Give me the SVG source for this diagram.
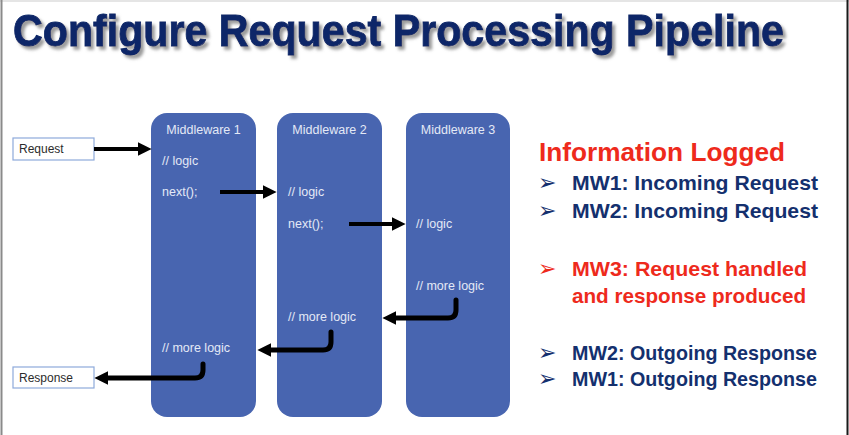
<svg xmlns="http://www.w3.org/2000/svg" width="849" height="435" viewBox="0 0 849 435">
  <defs>
    <filter id="titleShadow" x="-5%" y="-20%" width="110%" height="150%">
      <feDropShadow dx="3" dy="3" stdDeviation="1.6" flood-color="#7a7a7a" flood-opacity="0.75"/>
    </filter>
    <marker id="head" markerUnits="userSpaceOnUse" markerWidth="14" markerHeight="14" viewBox="0 0 13 13" refX="5" refY="6.5" orient="auto">
      <path d="M0,0 L13,6.5 L0,13 Z" fill="#000"/>
    </marker>
  </defs>
  <style>
    .mw { fill: #4865b0; }
    .mwTitle { font-family: "Liberation Sans", Arial, sans-serif; font-size: 12.5px; fill: #e4e9f6; text-anchor: middle; }
    .code { font-family: "Liberation Sans", Arial, sans-serif; font-size: 12.5px; fill: #e4e9f6; }
    .io { fill: #ffffff; stroke: #8eaadb; stroke-width: 1.2; }
    .ioText { font-family: "Liberation Sans", Arial, sans-serif; font-size: 12px; fill: #2b2b2b; }
    .wire { fill: none; stroke: #000; stroke-width: 4; stroke-linejoin: round; }
    .hook { fill: none; stroke: #000; stroke-width: 5; stroke-linecap: round; }
    .log { font-family: "Liberation Sans", Arial, sans-serif; font-weight: bold; font-size: 21px; fill: #14306e; }
    .logRed { font-family: "Liberation Sans", Arial, sans-serif; font-weight: bold; font-size: 21px; fill: #ee2a1c; }
    .bullet { font-family: "DejaVu Sans", sans-serif; font-size: 22px; fill: #14306e; }
    .bulletRed { font-family: "DejaVu Sans", sans-serif; font-size: 22px; fill: #ee2a1c; }
  </style>

  <!-- page frame -->
  <rect width="849" height="435" fill="#ffffff"/>
  <line x1="0" y1="1" x2="849" y2="1" stroke="#dcdcdc" stroke-width="1.5"/>
  <line x1="1.5" y1="0" x2="1.5" y2="435" stroke="#8a8a8a" stroke-width="2"/>
  <line x1="847.5" y1="0" x2="847.5" y2="435" stroke="#1a1a1a" stroke-width="2"/>

  <!-- heading: tall, slightly condensed bold face -->
  <text transform="translate(13,46) scale(1,1.1)" x="0" y="0" font-family="Liberation Sans, Arial, sans-serif" font-weight="bold" font-size="41" fill="#0f2868" stroke="#0f2868" stroke-width="0.8" textLength="771" lengthAdjust="spacingAndGlyphs" filter="url(#titleShadow)">Configure Request Processing Pipeline</text>

  <!-- request / response endpoints -->
  <g id="request">
    <rect class="io" x="13" y="138" width="81" height="22"/>
    <text class="ioText" x="19" y="153">Request</text>
  </g>
  <g id="response">
    <rect class="io" x="13" y="367" width="81" height="21"/>
    <text class="ioText" x="19" y="382">Response</text>
  </g>

  <!-- middleware stages -->
  <g id="middleware1">
    <rect class="mw" x="151" y="113" width="105" height="304" rx="16"/>
    <text class="mwTitle" x="203.5" y="134">Middleware 1</text>
    <text class="code" x="162" y="165">// logic</text>
    <text class="code" x="162" y="196">next();</text>
    <text class="code" x="162" y="352">// more logic</text>
  </g>
  <g id="middleware2">
    <rect class="mw" x="277" y="113" width="105" height="304" rx="16"/>
    <text class="mwTitle" x="329.5" y="134">Middleware 2</text>
    <text class="code" x="288" y="196">// logic</text>
    <text class="code" x="288" y="228">next();</text>
    <text class="code" x="288" y="321">// more logic</text>
  </g>
  <g id="middleware3">
    <rect class="mw" x="406" y="113" width="104" height="304" rx="16"/>
    <text class="mwTitle" x="458" y="134">Middleware 3</text>
    <text class="code" x="416" y="228">// logic</text>
    <text class="code" x="416" y="290">// more logic</text>
  </g>

  <!-- flow connectors -->
  <g id="connectors">
    <line class="wire" x1="94" y1="149" x2="143" y2="149" marker-end="url(#head)"/>
    <line class="wire" x1="220" y1="192" x2="268" y2="192" marker-end="url(#head)"/>
    <line class="wire" x1="349" y1="224" x2="397" y2="224" marker-end="url(#head)"/>
    <path class="hook" d="M456,300 V310 Q456,318 448,318 H391" marker-end="url(#head)"/>
    <path class="hook" d="M331,332 V342 Q331,350 323,350 H266" marker-end="url(#head)"/>
    <path class="hook" d="M203,364 V370 Q203,378 195,378 H103" marker-end="url(#head)"/>
  </g>

  <!-- log summary -->
  <g id="log-summary">
    <text x="539" y="161" font-family="Liberation Sans, Arial, sans-serif" font-weight="bold" font-size="26" fill="#ee2a1c" textLength="246" lengthAdjust="spacingAndGlyphs">Information Logged</text>

    <text class="bullet" x="538" y="190">➢</text>
    <text class="log" x="572" y="190" textLength="246" lengthAdjust="spacingAndGlyphs">MW1: Incoming Request</text>

    <text class="bullet" x="538" y="218">➢</text>
    <text class="log" x="572" y="218" textLength="246" lengthAdjust="spacingAndGlyphs">MW2: Incoming Request</text>

    <text class="bulletRed" x="538" y="276">➢</text>
    <text class="logRed" x="572" y="276" textLength="235" lengthAdjust="spacingAndGlyphs">MW3: Request handled</text>
    <text class="logRed" x="572" y="303" textLength="234" lengthAdjust="spacingAndGlyphs">and response produced</text>

    <text class="bullet" x="538" y="360">➢</text>
    <text class="log" x="572" y="360" textLength="245" lengthAdjust="spacingAndGlyphs">MW2: Outgoing Response</text>

    <text class="bullet" x="538" y="386">➢</text>
    <text class="log" x="572" y="386" textLength="245" lengthAdjust="spacingAndGlyphs">MW1: Outgoing Response</text>
  </g>
</svg>
